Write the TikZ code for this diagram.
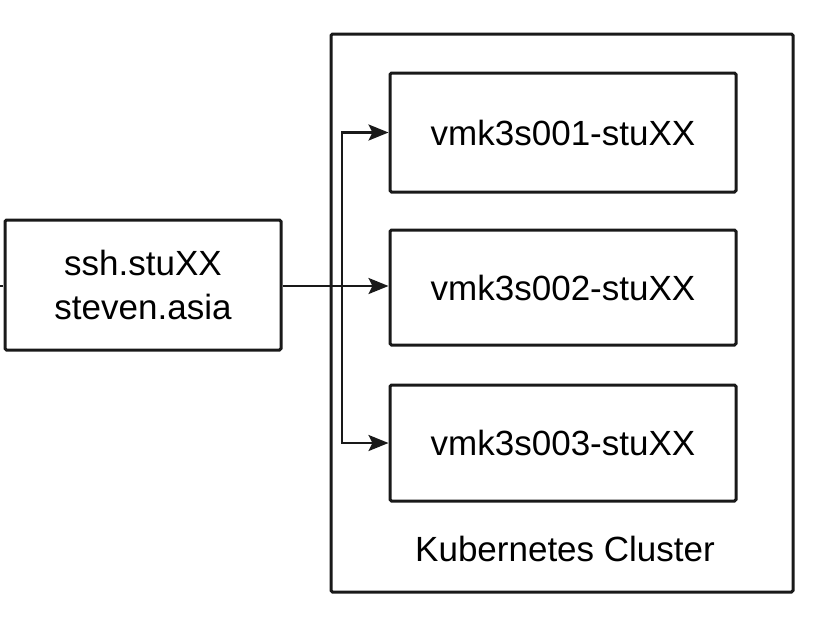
\documentclass[tikz,border=0pt]{standalone}
\usepackage{fontspec}
\setmainfont{Liberation Sans}
\usetikzlibrary{arrows.meta,calc}
\begin{document}
\begin{tikzpicture}[x=1pt,y=1pt,
  box/.style={draw=black!90, line width=3pt, rounded corners=1.5pt, inner sep=0pt,
    font=\fontsize{35}{44}\selectfont, align=center},
  vmbox/.style={box, minimum width=346pt, minimum height=117pt},
  conn/.style={draw=black!90, line width=2.6pt, -{Stealth[length=20pt,width=16pt,inset=4pt]}}
]
\useasboundingbox (0,0) rectangle (816,-622);
\node[box, minimum width=462pt, minimum height=558pt] (cl) at (562,-313) {};
\node[font=\fontsize{35}{44}\selectfont, anchor=base] (cllab) at (565,-561) {Kubernetes Cluster};
\node[vmbox, minimum height=119pt] (b1) at (563,-132.5) {vmk3s001-stuXX};
\node[vmbox, minimum height=115pt] (b2) at (563,-287.5) {vmk3s002-stuXX};
\node[vmbox, minimum height=116pt] (b3) at (563,-443) {vmk3s003-stuXX};
\node[box, minimum width=276pt, minimum height=130pt] (ssh) at (143,-285) {ssh.stuXX\\steven.asia};
\coordinate (j) at (342,-286);
\coordinate (in) at (0,-286);
\draw[black!90, line width=2.4pt] (in) -- ++(2.5,0);
\draw[conn] (ssh.east |- j) -- (j -| b2.west);
\draw[conn] (j) |- (b1.west);
\draw[conn] (j) |- (b3.west);
\end{tikzpicture}
\end{document}
